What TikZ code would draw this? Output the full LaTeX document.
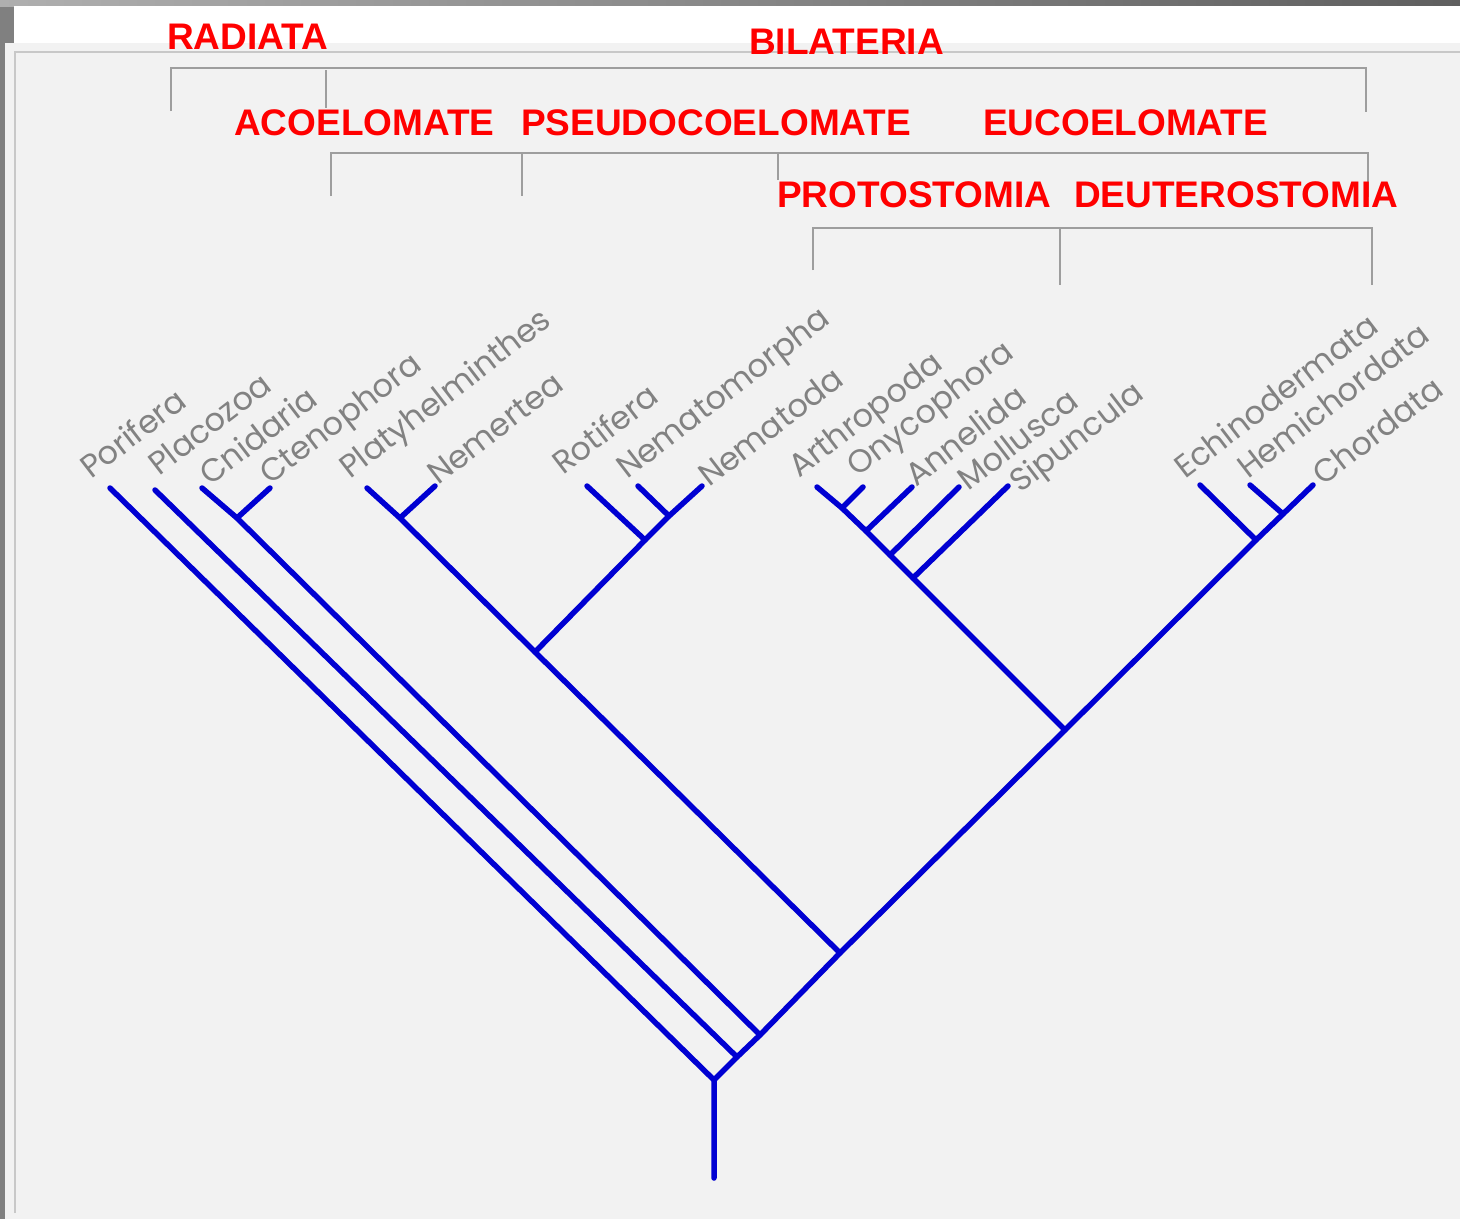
\documentclass[tikz,border=0pt]{standalone}
\usepackage{fontspec}
\setmainfont{Liberation Sans}
\newfontfamily\taxonfont{Poppins}

\definecolor{branchblue}{RGB}{0,0,210}
\definecolor{bracketgray}{RGB}{158,158,158}
\definecolor{taxongray}{RGB}{130,130,130}
\definecolor{panelgray}{RGB}{242,242,242}
\definecolor{framegray}{RGB}{128,128,128}
\definecolor{innerline}{RGB}{200,200,200}
\definecolor{headred}{RGB}{255,0,0}

\begin{document}
\begin{tikzpicture}[x=1pt,y=-1pt,
  branch/.style={draw=branchblue, line width=5.5pt, line cap=round, line join=round},
  bracket/.style={draw=bracketgray, line width=2pt},
  taxon/.style={anchor=base west, rotate=37.5, inner sep=0pt, text=taxongray,
    font=\taxonfont\fontsize{32}{35}\selectfont},
  group/.style={anchor=base west, inner sep=0pt, text=headred,
    font=\bfseries\fontsize{37}{40}\selectfont}]

% window frame and panel
\useasboundingbox (0,0) rectangle (1460,1219);
\fill[framegray] (0,0) rectangle (1460,1219);
\shade[left color={rgb,255:red,175;green,175;blue,175}, right color={rgb,255:red,95;green,95;blue,95}] (0,0) rectangle (1460,6);
\fill[white] (14,6) rectangle (1460,43);
\fill[panelgray] (5,43) rectangle (1460,1219);
\draw[innerline, line width=2pt] (15,1213) -- (15,52) -- (1460,52);

% group brackets
\coordinate (b1l) at (171,111);  \coordinate (b1lt) at (171,68);
\coordinate (b1r) at (1366,112); \coordinate (b1rt) at (1366,68);
\coordinate (b1m) at (326,108);  \coordinate (b1mt) at (326,70);
\draw[bracket] (b1l) -- (b1lt) -- (b1rt) -- (b1r);
\draw[bracket] (b1mt) -- (b1m);

\coordinate (b2l) at (331,196);  \coordinate (b2lt) at (331,153);
\coordinate (b2r) at (1368,197); \coordinate (b2rt) at (1368,153);
\coordinate (b2m) at (522,196);  \coordinate (b2mt) at (522,153);
\coordinate (b2n) at (778,180);  \coordinate (b2nt) at (778,153);
\draw[bracket] (b2l) -- (b2lt) -- (b2rt) -- (b2r);
\draw[bracket] (b2mt) -- (b2m);
\draw[bracket] (b2nt) -- (b2n);

\coordinate (b3l) at (813,270);  \coordinate (b3lt) at (813,228);
\coordinate (b3r) at (1372,285); \coordinate (b3rt) at (1372,228);
\coordinate (b3m) at (1060,285); \coordinate (b3mt) at (1060,228);
\draw[bracket] (b3l) -- (b3lt) -- (b3rt) -- (b3r);
\draw[bracket] (b3mt) -- (b3m);

% group names
\node[group] (hRad) at (167,49)   {RADIATA};
\node[group] (hBil) at (749,54)   {BILATERIA};
\node[group] (hAco) at (234,135)  {ACOELOMATE};
\node[group] (hPse) at (521,135)  {PSEUDOCOELOMATE};
\node[group] (hEuc) at (983,135)  {EUCOELOMATE};
\node[group] (hPro) at (777,207)  {PROTOSTOMIA};
\node[group] (hDeu) at (1074,207) {DEUTEROSTOMIA};

% tree: internal nodes
\coordinate (root) at (714,1178);
\coordinate (n0)   at (714,1080);
\coordinate (n1)   at (737,1057);
\coordinate (n2)   at (760,1035);
\coordinate (nCC)  at (237,518);
\coordinate (nB)   at (840,953);
\coordinate (nL)   at (535,652);
\coordinate (nPN)  at (400,518);
\coordinate (nPs)  at (645,540);
\coordinate (nNm)  at (669,516);
\coordinate (nE)   at (1065,730);
\coordinate (nSi)  at (913,578);
\coordinate (nMo)  at (890,555);
\coordinate (nAn)  at (866,531);
\coordinate (nOn)  at (842,508);
\coordinate (nD)   at (1256,540);
\coordinate (nH)   at (1283,514);

% tree: tips
\coordinate (tPor) at (110,488);
\coordinate (tPla) at (155,490);
\coordinate (tCni) at (202,488);
\coordinate (tCte) at (270,488);
\coordinate (tPly) at (367,488);
\coordinate (tNmr) at (435,486);
\coordinate (tRot) at (587,486);
\coordinate (tNmm) at (638,486);
\coordinate (tNmd) at (702,486);
\coordinate (tArt) at (817,487);
\coordinate (tOny) at (863,487);
\coordinate (tAnn) at (912,487);
\coordinate (tMol) at (959,487);
\coordinate (tSip) at (1008,486);
\coordinate (tEch) at (1200,485);
\coordinate (tHem) at (1250,485);
\coordinate (tCho) at (1313,485);

% branches
\draw[branch] (root) -- (n0) -- (tPor);
\draw[branch] (n0) -- (n1) -- (n2) -- (nB) -- (nE) -- (nD) -- (nH) -- (tCho);
\draw[branch] (n1) -- (tPla);
\draw[branch] (n2) -- (nCC) -- (tCni);
\draw[branch] (nCC) -- (tCte);
\draw[branch] (nB) -- (nL) -- (nPN) -- (tPly);
\draw[branch] (nPN) -- (tNmr);
\draw[branch] (nL) -- (nPs) -- (nNm) -- (tNmd);
\draw[branch] (nPs) -- (tRot);
\draw[branch] (nNm) -- (tNmm);
\draw[branch] (nE) -- (nSi) -- (nMo) -- (nAn) -- (nOn) -- (tArt);
\draw[branch] (nSi) -- (tSip);
\draw[branch] (nMo) -- (tMol);
\draw[branch] (nAn) -- (tAnn);
\draw[branch] (nOn) -- (tOny);
\draw[branch] (nD) -- (tEch);
\draw[branch] (nH) -- (tHem);

% taxon names
\node[taxon] (lPor) at (91,480)   {Porifera};
\node[taxon] (lPla) at (159,477)  {Placozoa};
\node[taxon] (lCni) at (210,487)  {Cnidaria};
\node[taxon] (lCte) at (270,486)  {Ctenophora};
\node[taxon] (lPly) at (350,480)  {Platyhelminthes};
\node[taxon] (lNmr) at (438,486)  {Nemertea};
\node[taxon] (lRot) at (563,476)  {Rotifera};
\node[taxon] (lNmm) at (627,480)  {Nematomorpha};
\node[taxon] (lNmd) at (709,488)  {Nematoda};
\node[taxon] (lArt) at (799,479)  {Arthropoda};
\node[taxon] (lOny) at (857,478)  {Onycophora};
\node[taxon] (lAnn) at (916,488)  {Annelida};
\node[taxon] (lMol) at (968,492)  {Mollusca};
\node[taxon] (lSip) at (1020,494) {Sipuncula};
\node[taxon] (lEch) at (1185,480) {Echinodermata};
\node[taxon] (lHem) at (1248,480) {Hemichordata};
\node[taxon] (lCho) at (1323,487) {Chordata};
\end{tikzpicture}
\end{document}
